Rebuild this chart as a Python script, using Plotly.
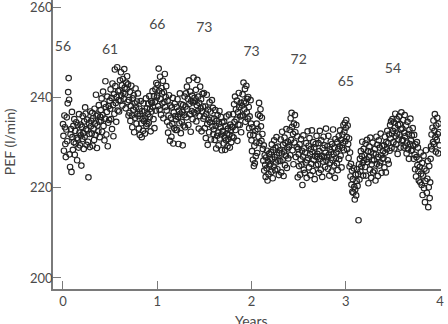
import plotly.graph_objects as go

# Daily-ish PEF readings (l/min), 200 readings per year
pef_year1 = [
    234.1, 231.5, 228.2, 236.0, 233.4, 229.7, 226.8, 232.9, 235.6, 230.3, 238.7, 241.2, 244.3, 239.5, 227.4, 224.6, 231.8, 233.0, 223.5, 236.8,
    231.2, 228.4, 233.7, 230.1, 235.2, 227.3, 232.6, 229.8, 234.5, 231.0, 226.1, 233.9, 230.7, 228.9, 236.3, 232.2, 229.4, 234.0, 231.6, 224.9,
    233.5, 230.8, 235.9, 232.1, 228.6, 234.7, 231.3, 237.8, 236.4, 233.0, 229.5, 235.1, 232.7, 230.2, 222.3, 234.3, 231.9, 229.0, 236.9, 233.6,
    234.8, 232.0, 236.6, 229.3, 235.4, 233.1, 230.6, 237.5, 234.2, 231.7, 240.6, 235.9, 228.8, 233.8, 236.2, 232.5, 238.3, 234.6, 231.2, 235.7,
    237.2, 234.9, 239.8, 232.4, 236.1, 241.3, 233.7, 238.6, 230.5, 235.3, 243.6, 237.9, 231.8, 236.8, 240.2, 229.2, 234.4, 238.1, 235.0, 239.3,
    237.5, 241.8, 235.2, 239.9, 233.0, 243.1, 238.3, 231.4, 240.7, 236.4, 246.2, 242.5, 238.8, 234.6, 240.1, 246.7, 237.1, 241.4, 239.4, 236.9,
    241.6, 243.8, 239.3, 245.6, 240.4, 242.7, 238.2, 244.1, 241.0, 239.7, 246.3, 242.2, 240.8, 237.6, 243.3, 241.9, 244.7, 239.0, 242.9, 236.0,
    239.4, 236.6, 241.2, 234.8, 238.1, 242.6, 236.0, 233.4, 239.8, 237.3, 240.5, 232.3, 238.7, 235.5, 242.0, 237.8, 234.2, 239.1, 236.3, 240.9,
    235.9, 233.1, 237.5, 231.7, 236.4, 239.2, 234.3, 231.2, 237.0, 235.2, 232.6, 238.7, 234.8, 236.9, 232.0, 235.5, 239.8, 233.7, 237.6, 234.1,
    236.3, 238.6, 234.4, 240.3, 235.7, 237.5, 232.5, 239.1, 236.9, 238.8, 241.4, 237.9, 235.2, 240.3, 233.2, 239.0, 241.8, 237.1, 243.2, 240.0,
]
pef_year2 = [
    240.4, 242.8, 238.1, 246.4, 241.5, 237.3, 244.6, 239.6, 236.2, 242.1, 240.9, 238.7, 243.7, 235.4, 241.2, 239.0, 245.2, 237.9, 240.1, 242.5,
    237.1, 234.6, 239.3, 232.2, 236.0, 240.5, 233.8, 230.4, 238.2, 235.5, 231.3, 237.8, 234.1, 239.9, 229.8, 236.7, 233.2, 238.6, 235.9, 232.8,
    235.2, 237.9, 232.8, 239.6, 235.7, 229.7, 237.1, 234.3, 240.9, 236.4, 232.1, 238.5, 234.6, 236.8, 229.4, 238.3, 233.8, 236.1, 240.2, 233.4,
    238.0, 240.9, 235.6, 242.4, 237.4, 239.7, 233.9, 243.8, 238.6, 236.3, 241.3, 232.4, 239.2, 237.0, 240.4, 235.2, 238.9, 244.4, 236.7, 239.9,
    239.1, 236.5, 241.7, 234.7, 238.3, 243.9, 237.0, 240.2, 233.1, 238.8, 235.9, 242.4, 237.6, 239.6, 232.5, 236.9, 240.8, 238.0, 235.3, 241.0,
    235.8, 233.2, 238.0, 231.0, 236.4, 240.6, 234.1, 229.5, 237.3, 235.0, 232.3, 238.9, 234.5, 236.9, 230.7, 235.4, 239.4, 233.6, 237.7, 231.9,
    232.9, 235.3, 230.6, 237.2, 233.7, 228.7, 234.8, 231.5, 236.1, 232.2, 229.4, 234.2, 237.0, 230.9, 233.4, 235.7, 231.8, 228.3, 234.5, 232.6,
    232.3, 229.8, 234.6, 231.1, 228.4, 233.7, 230.5, 235.8, 232.0, 229.2, 233.1, 230.8, 236.2, 231.7, 228.9, 234.0, 232.7, 230.1, 233.5, 231.4,
    233.4, 236.3, 231.1, 238.5, 234.6, 240.2, 232.8, 237.4, 235.1, 239.3, 230.4, 236.7, 234.0, 241.0, 237.9, 233.9, 235.8, 238.8, 232.3, 236.0,
    238.2, 240.7, 236.0, 243.3, 239.1, 237.4, 241.9, 234.6, 238.8, 242.6, 236.7, 239.7, 235.3, 240.1, 237.9, 233.2, 235.8, 231.7, 239.4, 234.2,
]
pef_year3 = [
    230.5, 228.1, 233.4, 226.2, 231.7, 224.8, 229.3, 225.4, 232.6, 227.0, 230.0, 234.2, 227.7, 233.0, 236.2, 231.3, 238.8, 229.9, 235.9, 237.4,
    233.6, 230.4, 235.5, 231.9, 228.6, 226.0, 229.4, 223.8, 227.2, 225.1, 222.4, 226.7, 224.3, 228.2, 221.6, 225.8, 223.0, 227.5, 224.9, 226.4,
    225.2, 227.9, 223.5, 229.6, 226.3, 222.1, 228.4, 224.7, 230.5, 226.8, 223.9, 228.9, 225.6, 231.2, 227.3, 224.1, 229.1, 226.0, 222.8, 227.7,
    228.3, 225.9, 230.7, 223.4, 227.6, 232.4, 226.2, 229.5, 222.6, 228.0, 231.1, 225.0, 229.9, 227.1, 233.0, 224.4, 228.7, 230.2, 226.5, 229.0,
    229.4, 232.8, 227.2, 235.4, 230.6, 236.6, 233.5, 228.3, 231.9, 225.2, 234.2, 230.0, 236.1, 232.3, 226.8, 233.9, 229.0, 231.4, 222.3, 228.6,
    227.4, 224.8, 229.6, 222.9, 226.3, 230.8, 225.1, 228.2, 220.6, 226.9, 231.6, 224.0, 228.7, 223.3, 227.8, 225.6, 229.9, 222.2, 226.1, 232.5,
    226.6, 229.3, 224.5, 231.0, 227.4, 222.8, 228.6, 225.3, 232.7, 227.9, 223.7, 230.1, 226.2, 228.9, 221.9, 227.0, 229.7, 225.0, 231.5, 226.8,
    227.5, 225.2, 229.9, 223.3, 228.1, 232.6, 226.4, 224.0, 230.5, 227.0, 222.4, 228.8, 225.8, 231.3, 226.9, 229.4, 224.6, 227.7, 233.1, 226.0,
    226.8, 229.2, 224.2, 231.5, 227.3, 222.7, 228.5, 225.5, 230.2, 227.9, 223.6, 229.7, 226.1, 232.9, 227.4, 224.9, 228.9, 222.2, 230.8, 226.5,
    227.8, 225.4, 230.1, 223.9, 228.6, 231.4, 226.3, 229.2, 232.7, 227.1, 230.6, 224.5, 228.9, 231.8, 229.9, 233.9, 228.3, 232.4, 234.4, 230.3,
]
pef_year4 = [
    233.3, 235.0, 231.2, 228.5, 233.8, 229.7, 226.6, 230.9, 224.7, 227.8, 222.5, 225.3, 220.7, 223.8, 219.1, 221.9, 218.9, 224.3, 220.2, 217.4,
    219.6, 222.9, 218.3, 221.5, 224.1, 220.4, 223.0, 212.8, 225.2, 221.8, 226.4, 223.6, 228.1, 224.7, 227.0, 230.2, 225.5, 222.7, 228.6, 226.1,
    227.2, 224.6, 229.8, 222.7, 226.3, 230.6, 225.7, 228.1, 221.0, 226.8, 229.1, 224.0, 231.1, 227.9, 222.2, 225.2, 226.1, 230.0, 223.4, 227.6,
    226.1, 223.8, 228.6, 221.6, 227.4, 231.3, 225.3, 229.5, 222.6, 226.8, 230.5, 224.9, 228.9, 225.6, 232.0, 227.2, 223.3, 229.3, 226.4, 228.1,
    226.6, 229.4, 224.5, 231.3, 227.8, 223.4, 230.1, 228.5, 232.6, 226.1, 229.9, 225.3, 231.8, 228.2, 233.9, 230.9, 234.7, 228.8, 232.0, 235.2,
    232.6, 230.1, 234.5, 228.7, 233.3, 236.4, 231.4, 229.6, 235.2, 232.0, 227.5, 233.9, 230.7, 235.8, 231.8, 234.1, 228.9, 232.9, 236.7, 230.4,
    233.1, 230.6, 235.0, 228.9, 232.2, 236.1, 231.4, 229.3, 233.8, 227.6, 230.0, 234.6, 228.5, 231.9, 226.4, 232.8, 229.7, 235.3, 230.5, 228.2,
    231.6, 228.4, 233.2, 229.3, 226.4, 231.7, 227.3, 224.1, 229.6, 222.5, 226.8, 230.1, 225.0, 228.9, 223.7, 221.6, 226.3, 224.6, 221.2, 227.8,
    223.1, 220.6, 225.5, 218.4, 222.7, 227.1, 219.9, 224.2, 216.8, 221.5, 228.3, 223.8, 218.9, 222.0, 225.9, 215.7, 220.1, 224.8, 217.7, 221.2,
    226.4, 229.2, 231.8, 228.5, 233.3, 230.1, 234.9, 229.7, 232.6, 236.3, 231.2, 228.0, 233.8, 230.6, 235.5, 231.9, 227.6, 234.2, 232.3, 229.4,
]

readings_per_year = 200
pef = pef_year1 + pef_year2 + pef_year3 + pef_year4
years = [i / readings_per_year for i in range(len(pef))]

# Numbers printed above the data at half-year marks
label_years = [0, 0.5, 1.0, 1.5, 2.0, 2.5, 3.0, 3.5]
label_text = ["56", "61", "66", "73", "73", "72", "65", "54"]
label_y = [251.0, 250.3, 255.9, 255.2, 250.0, 248.3, 243.4, 246.2]

x_ticks = [0, 1, 2, 3, 4]
y_ticks = [200, 220, 240, 260]

FONT = "Lato, 'Noto Sans', sans-serif"
TXT = "#4a4a4a"
AX = "#7a7a7a"

fig = go.Figure()
fig.add_trace(go.Scatter(
    x=years, y=pef, mode="markers",
    marker=dict(symbol="circle-open", size=5.5, color="#222222", line=dict(width=1.15, color="#222222")),
    showlegend=False, hoverinfo="skip",
))
fig.add_trace(go.Scatter(
    x=label_years, y=label_y, mode="text", text=label_text,
    textposition="middle center",
    textfont=dict(family=FONT, size=14, color=TXT),
    showlegend=False, hoverinfo="skip",
))

axis_common = dict(
    showgrid=False, zeroline=False, showline=True, linecolor=AX, linewidth=1.5,
    ticks="inside", ticklen=8, tickwidth=1.3, tickcolor=AX,
    tickfont=dict(family=FONT, size=13, color=TXT),
    ticklabeloverflow="allow",
)
fig.update_layout(
    width=448, height=324,
    margin=dict(l=53, r=7, t=0, b=35, pad=0),
    paper_bgcolor="white", plot_bgcolor="white",
    xaxis=dict(range=[-0.106, 4.01], tickvals=x_ticks, **axis_common),
    yaxis=dict(range=[197.56, 261.6], tickvals=y_ticks, ticklabelstandoff=-4, **axis_common),
    annotations=[
        dict(text="Years", x=2, xref="x", y=-0.072, yref="paper", xanchor="center", yanchor="top",
             showarrow=False, font=dict(family=FONT, size=14, color=TXT)),
        dict(text="PEF (l/min)", x=-0.11, xref="paper", y=0.509, yref="paper", xanchor="center", yanchor="middle",
             textangle=-90, showarrow=False, font=dict(family=FONT, size=14, color=TXT)),
    ],
)

fig.write_html("out.html")
